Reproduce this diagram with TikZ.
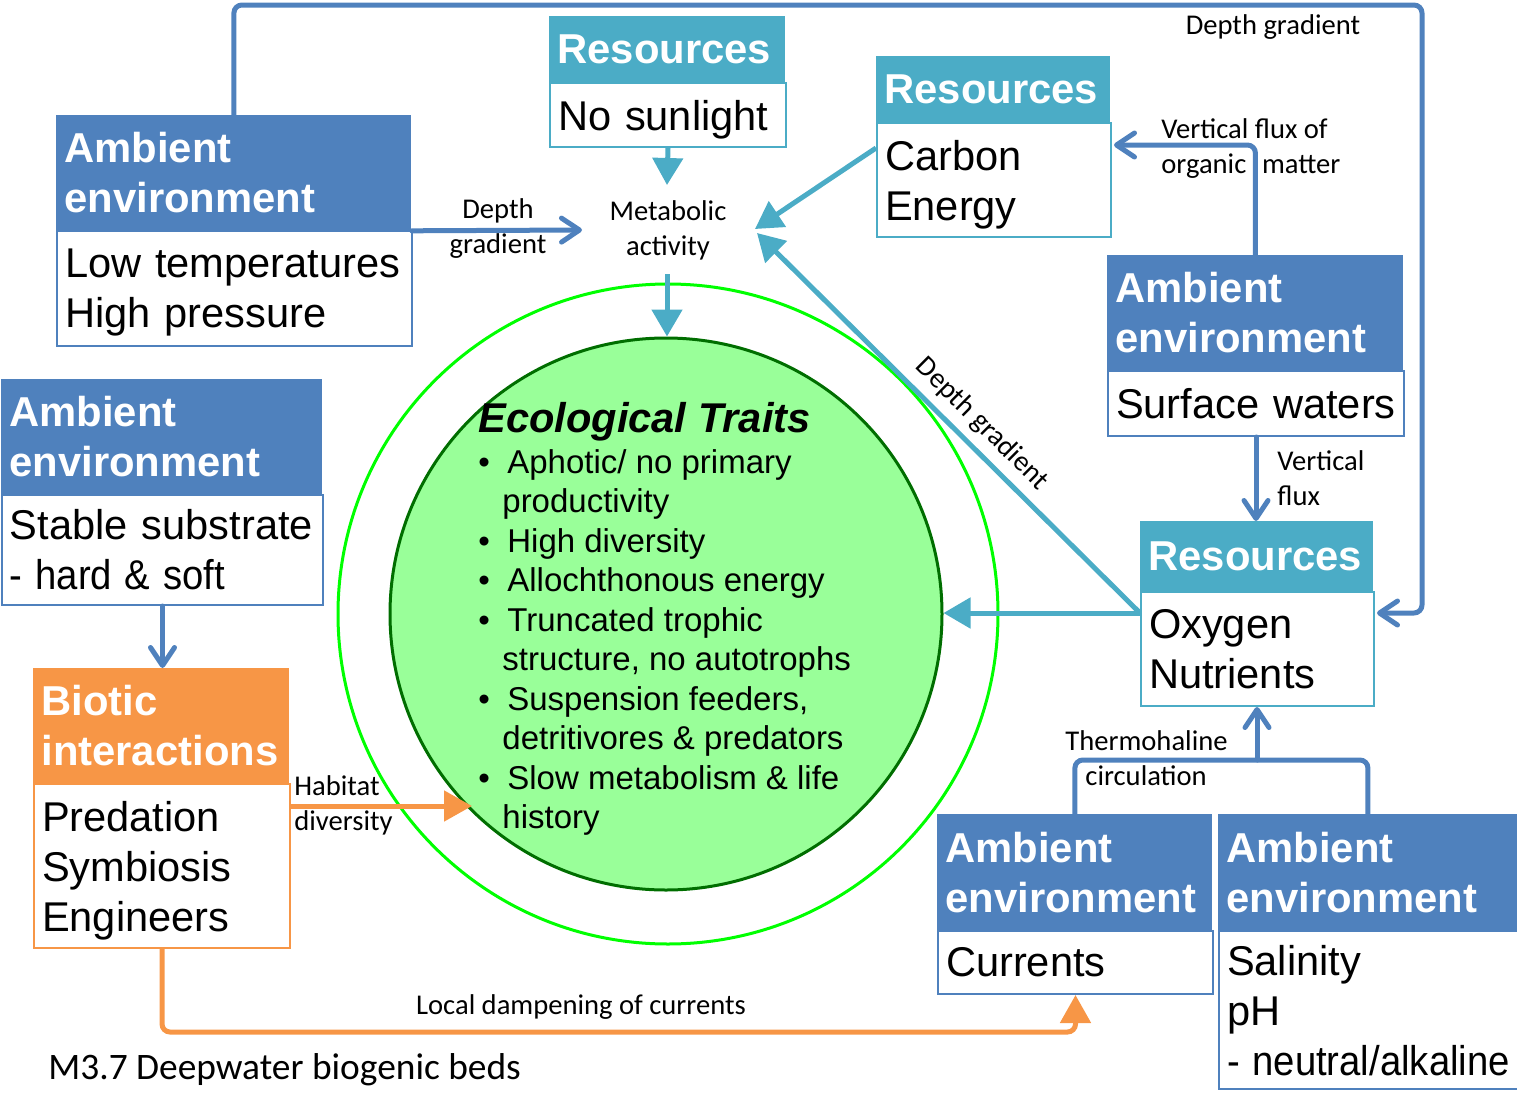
\documentclass[tikz,border=0pt]{standalone}
\usepackage{fontspec}
\usepackage{graphicx}
\setmainfont{Liberation Sans}
\newfontfamily\calib{Carlito}
\usetikzlibrary{arrows.meta,calc}
\definecolor{envblue}{HTML}{4F81BD}
\definecolor{restea}{HTML}{4BACC6}
\definecolor{bioor}{HTML}{F79646}
\definecolor{ringgreen}{HTML}{00FF00}
\definecolor{coregreen}{HTML}{99FF99}
\definecolor{coreedge}{HTML}{006E00}
\hyphenpenalty=10000
\exhyphenpenalty=10000
\newcommand\nodesc[1]{\raisebox{0pt}[\height][0pt]{#1}}
\newcommand\narrowline[1]{\scalebox{0.92}[1]{#1}}
\begin{document}
\begin{tikzpicture}[x=0.5pt,y=0.5pt,
 hdr/.style={anchor=north west, inner xsep=4pt, inner ysep=0pt, text=white, align=left,
   font=\bfseries\fontsize{20.9}{25}\selectfont},
 bdy/.style={anchor=north west, inner xsep=4pt, inner ysep=0pt, fill=white, line width=1pt,
   align=left, font=\fontsize{20.8}{25}\selectfont},
 lbl/.style={font=\calib\fontsize{14.3}{17.5}\selectfont, inner sep=0pt},
 trait/.style={font=\fontsize{16.5}{19.75}\selectfont, inner sep=0pt, anchor=base west},
 bluearr/.style={draw=envblue, line width=2.5pt, line cap=round, line join=round,
   -{Straight Barb[length=9pt,width=12pt,round]}},
 blueline/.style={draw=envblue, line width=2.5pt},
 tealarr/.style={draw=restea, line width=2.5pt, -{Triangle[length=13.5pt,width=15pt]}},
 orarr/.style={draw=bioor, line width=2.5pt, -{Triangle[length=14pt,width=15pt]}}
]
\useasboundingbox (0,0) rectangle (1517,-1114);

% circles
\node[circle, draw=ringgreen, line width=1.5pt, minimum size=330pt, inner sep=0pt] (outer) at (668,-614) {};
\node[circle, draw=coreedge, fill=coregreen, line width=1.5pt, minimum size=276pt, inner sep=0pt] (inner) at (666,-614) {};

% ecological traits text
\node[trait, font=\bfseries\itshape\fontsize{20.8}{25}\selectfont] (ttl) at (478,-432) {Ecological Traits};
\node[trait] (l1) at (478,-473) {\makebox[14.5pt][l]{\textbullet}Aphotic/ no primary};
\node[trait] (l2) at (478,-512.5) {\hspace*{12pt}productivity};
\node[trait] (l3) at (478,-552) {\makebox[14.5pt][l]{\textbullet}High diversity};
\node[trait] (l4) at (478,-591.5) {\makebox[14.5pt][l]{\textbullet}Allochthonous energy};
\node[trait] (l5) at (478,-631) {\makebox[14.5pt][l]{\textbullet}Truncated trophic};
\node[trait] (l6) at (478,-670.5) {\hspace*{12pt}structure, no autotrophs};
\node[trait] (l7) at (478,-710) {\makebox[14.5pt][l]{\textbullet}Suspension feeders,};
\node[trait] (l8) at (478,-749.5) {\hspace*{12pt}detritivores \& predators};
\node[trait] (l9) at (478,-789) {\makebox[14.5pt][l]{\textbullet}Slow metabolism \& life};
\node[trait] (l10) at (478,-828.5) {\hspace*{12pt}history};

% boxes
\node[hdr, fill=envblue, minimum width=177.5pt, text width=169.5pt, minimum height=57.5pt] (a1h) at (56,-115) {Ambient\\environment};
\node[bdy, draw=envblue, minimum width=177.5pt, text width=169.5pt, minimum height=57.5pt] (a1b) at (56,-230) {Low~temperatures\\\nodesc{High~pressure}};

\node[hdr, fill=restea, minimum width=118pt, text width=110pt, minimum height=33pt] (r1h) at (549,-16) {Resources};
\node[bdy, draw=restea, minimum width=118pt, text width=110pt, minimum height=32pt] (r1b) at (549,-82) {\nodesc{No~sunlight}};

\node[hdr, fill=restea, minimum width=117pt, text width=109pt, minimum height=33pt] (r2h) at (876,-56) {Resources};
\node[bdy, draw=restea, minimum width=117pt, text width=109pt, minimum height=57pt] (r2b) at (876,-122) {Carbon\\\nodesc{Energy}};

\node[hdr, fill=envblue, minimum width=148pt, text width=140pt, minimum height=57.5pt] (a2h) at (1107,-255) {Ambient\\environment};
\node[bdy, draw=envblue, minimum width=148pt, text width=140pt, minimum height=32.5pt] (a2b) at (1107,-370) {Surface~waters};

\node[hdr, fill=restea, minimum width=116.5pt, text width=108.5pt, minimum height=35pt] (r3h) at (1140,-521) {Resources};
\node[bdy, draw=restea, minimum width=116.5pt, text width=108.5pt, minimum height=57pt] (r3b) at (1140,-591) {Oxygen\\Nutrients};

\node[hdr, fill=envblue, minimum width=137.5pt, text width=129.5pt, minimum height=58pt] (a3h) at (937,-814) {Ambient\\environment};
\node[bdy, draw=envblue, minimum width=137.5pt, text width=129.5pt, minimum height=31.5pt] (a3b) at (937,-930) {Currents};

\node[hdr, fill=envblue, minimum width=149.5pt, text width=141.5pt, minimum height=58pt] (a4h) at (1218,-814) {Ambient\\environment};
\node[bdy, draw=envblue, minimum width=149.5pt, text width=141.5pt, minimum height=79pt] (a4b) at (1218,-930) {Salinity\\pH\\\nodesc{\narrowline{-~neutral/alkaline}}};

\node[hdr, fill=envblue, minimum width=160.5pt, text width=152.5pt, minimum height=57.5pt] (a5h) at (1,-379) {Ambient\\environment};
\node[bdy, draw=envblue, minimum width=160.5pt, text width=152.5pt, minimum height=55pt] (a5b) at (1,-494) {Stable~substrate\\\narrowline{-~hard~\&~soft}};

\node[hdr, fill=bioor, minimum width=128pt, text width=120pt, minimum height=57.5pt] (b1h) at (33,-668) {Biotic\\interactions};
\node[bdy, draw=bioor, minimum width=128pt, text width=120pt, minimum height=82pt] (b1b) at (33,-783) {Predation\\Symbiosis\\\nodesc{Engineers}};

% labels
\node[lbl, align=center] (dg1) at (498,-229) {Depth\\gradient};
\node[lbl, align=center] (met) at (668,-230) {Metabolic\\activity};
\node[lbl] (dg2) at (1273,-27) {Depth gradient};
\node[lbl, align=left, anchor=west] (vf1) at (1161,-149) {Vertical flux of\\organic\hspace{0.55em}matter};
\node[lbl, align=left, anchor=west] (vf2) at (1277,-478) {Vertical\\flux};
\node[lbl, align=left, anchor=west] (thc) at (1065,-758) {Thermohaline\\\hspace*{10pt}circulation};
\node[lbl, align=left, anchor=west] (hab) at (294,-805) {Habitat\\diversity};
\node[lbl] (ldc) at (581,-1007) {Local dampening of currents};
\node[lbl, rotate=-44.8] (dg3) at (982,-424) {Depth gradient};
\node[font=\calib\fontsize{18.7}{22}\selectfont, inner sep=0pt, anchor=west] (cap) at (48,-1070) {M3.7 Deepwater biogenic beds};

% coordinates
\coordinate (metL) at (582,-230);
\coordinate (metT) at (667,-185);
\coordinate (metB) at (667,-274);
\coordinate (metR1) at (755,-229);
\coordinate (metR2) at (757,-233);
\coordinate (r2W) at ($(r2b.north west)+(0,-26)$);
\coordinate (r2E) at ($(r2b.north east)+(2,-23)$);
\coordinate (r3W) at ($(r3b.north west)+(0,-22)$);
\coordinate (r3E) at ($(r3b.north east)+(2,-22)$);
\coordinate (thJ) at (1257,-760);
\coordinate (b1E) at ($(b1b.north east)+(0,-23)$);
\coordinate (habT) at (472,-806);

% connectors
\draw[bluearr, rounded corners=4pt] (a1h.north) |- (1422,-5) |- (r3E);
\draw[bluearr] (a1h.south east) -- (metL);
\draw[tealarr] (r1b.south) -- (metT);
\draw[tealarr] (metB) -- (metB |- inner.north);
\draw[tealarr] (r2W) -- (metR1);
\draw[tealarr] (r3W) -- (metR2);
\draw[tealarr] (r3W) -- (r3W -| inner.east);
\draw[bluearr, rounded corners=4pt] (a2h.north) |- (r2E);
\draw[bluearr] (a2b.south) -- (a2b.south |- r3h.north);
\draw[blueline, rounded corners=4pt] (a3h.north) |- (thJ) -| (a4h.north);
\draw[bluearr] (thJ) -- (thJ |- r3b.south);
\draw[bluearr] (a5b.south) -- (a5b.south |- b1h.north);
\draw[orarr] (b1E) -- (habT);
\draw[orarr, rounded corners=4pt] (b1b.south) |- ($(a3b.south)+(0,-37)$) -- (a3b.south);
\end{tikzpicture}
\end{document}
